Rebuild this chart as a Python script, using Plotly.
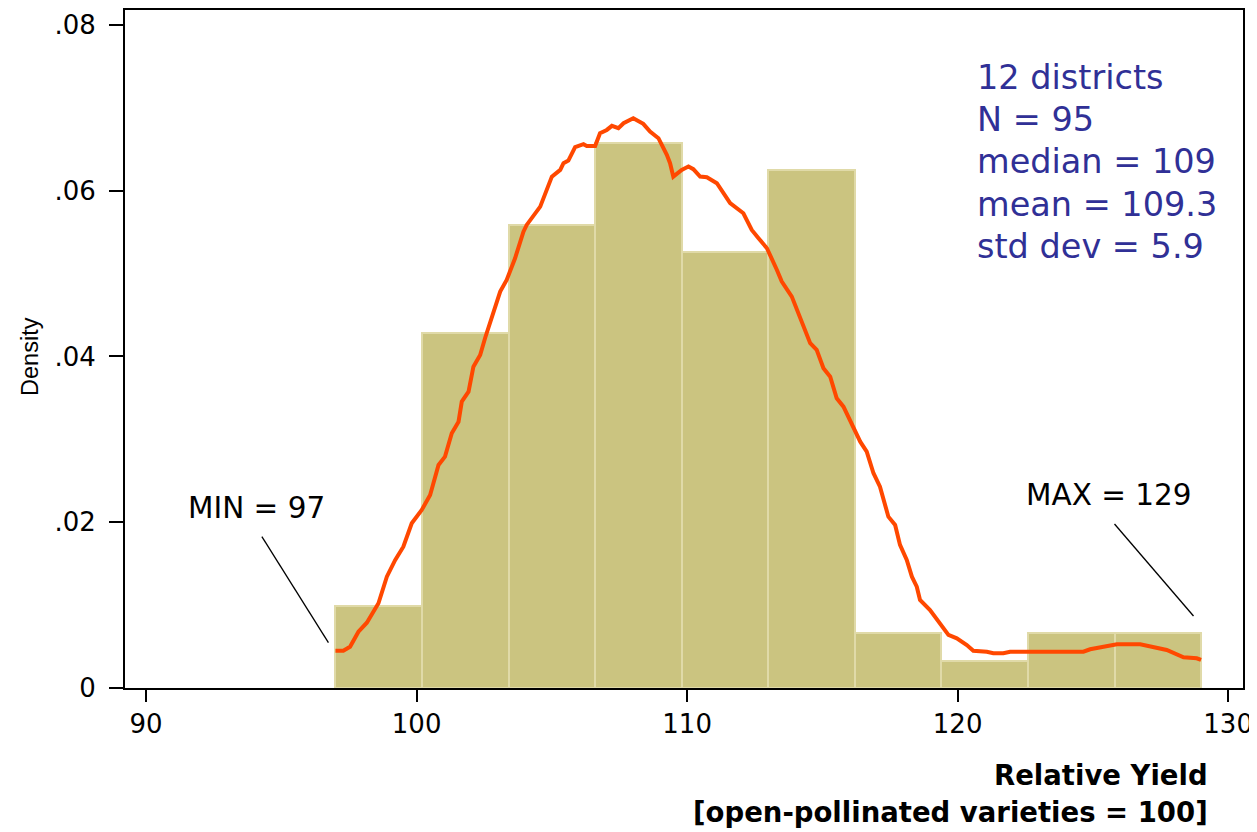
import plotly.graph_objects as go

# ---- data ----
bin_edges = [97.0, 100.2, 103.4, 106.6, 109.8, 113.0, 116.2, 119.4, 122.6, 125.8, 129.0]
bar_density = [0.0099, 0.0428, 0.0559, 0.0658, 0.0526, 0.0625, 0.0066, 0.0033, 0.0066, 0.0066]

kde_x = [97.0, 97.29, 97.54, 97.85, 98.16, 98.59, 98.90, 99.21, 99.51, 99.82,
         100.19, 100.50, 100.81, 101.05, 101.30, 101.55, 101.67, 101.92, 102.10, 102.35,
         102.53, 102.63, 103.09, 103.33, 103.64, 103.95, 104.07, 104.57, 104.75, 105.00,
         105.31, 105.43, 105.61, 105.86, 106.17, 106.29, 106.60, 106.78, 107.03, 107.22,
         107.46, 107.65, 108.01, 108.38, 108.63, 108.94, 109.25, 109.37, 109.49, 109.80,
         110.05, 110.23, 110.48, 110.73, 111.10, 111.34, 111.59, 112.08, 112.39, 112.64,
         112.95, 113.32, 113.50, 113.87, 114.24, 114.55, 114.79, 115.04, 115.29, 115.53,
         115.78, 116.15, 116.40, 116.64, 116.89, 117.13, 117.44, 117.69, 117.87, 118.12,
         118.31, 118.49, 118.61, 118.98, 119.35, 119.66, 119.97, 120.34, 120.58, 121.08,
         121.32, 121.69, 121.94, 122.68, 124.65, 124.90, 125.39, 125.89, 126.75, 127.12,
         127.73, 128.35, 128.84, 129.0]
kde_y = [0.00450, 0.00450, 0.00498, 0.00679, 0.00788, 0.01022, 0.01343, 0.01545, 0.01705, 0.01987,
         0.02148, 0.02329, 0.02691, 0.02791, 0.03073, 0.03213, 0.03455, 0.03575, 0.03877, 0.04018,
         0.04220, 0.04320, 0.04782, 0.04923, 0.05185, 0.05506, 0.05587, 0.05808, 0.05970, 0.06170,
         0.06251, 0.06332, 0.06363, 0.06525, 0.06561, 0.06540, 0.06540, 0.06694, 0.06733, 0.06782,
         0.06754, 0.06814, 0.06875, 0.06806, 0.06713, 0.06633, 0.06432, 0.06332, 0.06170, 0.06251,
         0.06291, 0.06259, 0.06170, 0.06163, 0.06090, 0.05970, 0.05849, 0.05728, 0.05527, 0.05427,
         0.05306, 0.05044, 0.04903, 0.04722, 0.04401, 0.04160, 0.04079, 0.03858, 0.03756, 0.03496,
         0.03394, 0.03153, 0.02972, 0.02851, 0.02591, 0.02429, 0.02067, 0.01967, 0.01726, 0.01545,
         0.01343, 0.01222, 0.01062, 0.00941, 0.00781, 0.00640, 0.00600, 0.00519, 0.00450, 0.00438,
         0.00419, 0.00419, 0.00438, 0.00438, 0.00438, 0.00467, 0.00498, 0.00527, 0.00527, 0.00498,
         0.00459, 0.00370, 0.00358, 0.00338]

x_ticks = [90, 100, 110, 120, 130]
x_tick_labels = ["90", "100", "110", "120", "130"]
y_ticks = [0, 0.02, 0.04, 0.06, 0.08]
y_tick_labels = ["0", ".02", ".04", ".06", ".08"]

stats_lines = ["12 districts", "N = 95", "median = 109", "mean = 109.3", "std dev = 5.9"]
stats_y = [0.07361, 0.06854, 0.06347, 0.05828, 0.05322]

min_label = "MIN = 97"
max_label = "MAX = 129"

# ---- figure ----
centers = [(a + b) / 2 for a, b in zip(bin_edges[:-1], bin_edges[1:])]
widths = [b - a for a, b in zip(bin_edges[:-1], bin_edges[1:])]

fig = go.Figure()
fig.add_trace(go.Bar(
    x=centers, y=bar_density, width=widths,
    marker=dict(color="rgb(203,196,128)", line=dict(color="rgb(224,218,168)", width=2)),
    hoverinfo="skip", showlegend=False,
))
fig.add_trace(go.Scatter(
    x=kde_x, y=kde_y, mode="lines",
    line=dict(color="rgb(255,72,0)", width=4),
    showlegend=False,
))

# leader lines for MIN / MAX
fig.add_shape(type="line", x0=94.28, y0=0.01826, x1=96.74, y1=0.00547,
              line=dict(color="black", width=1.3), xref="x", yref="y")
fig.add_shape(type="line", x0=125.80, y0=0.01979, x1=128.72, y1=0.00869,
              line=dict(color="black", width=1.3), xref="x", yref="y")

fig.add_annotation(x=94.07, y=0.0217, text=min_label, showarrow=False,
                   font=dict(family="DejaVu Sans", size=29.5, color="black"),
                   xanchor="center", yanchor="middle")
fig.add_annotation(x=125.59, y=0.02329, text=max_label, showarrow=False,
                   font=dict(family="DejaVu Sans", size=29.5, color="black"),
                   xanchor="center", yanchor="middle")

for txt, yy in zip(stats_lines, stats_y):
    fig.add_annotation(x=120.65, y=yy, text=txt, showarrow=False,
                       font=dict(family="DejaVu Sans", size=33.5, color="rgb(48,48,150)"),
                       xanchor="left", yanchor="middle")

# axis titles
fig.add_annotation(xref="paper", yref="paper", x=0.9705, y=-0.1283, text="<b>Relative Yield</b>",
                   showarrow=False, xanchor="right", yanchor="middle",
                   font=dict(family="DejaVu Sans", size=27.5, color="black"))
fig.add_annotation(xref="paper", yref="paper", x=0.9705, y=-0.1829,
                   text="<b>[open-pollinated varieties = 100]</b>",
                   showarrow=False, xanchor="right", yanchor="middle",
                   font=dict(family="DejaVu Sans", size=27.5, color="black"))
fig.add_annotation(xref="paper", yref="paper", x=-0.085, y=0.4897, text="Density",
                   showarrow=False, textangle=-90, xanchor="center", yanchor="middle",
                   font=dict(family="Liberation Sans", size=23.5, color="black"))

fig.update_layout(
    width=1257, height=832,
    margin=dict(l=117, r=22, t=2, b=152),
    paper_bgcolor="white", plot_bgcolor="white",
    bargap=0,
    xaxis=dict(range=[89.22, 130.55], tickvals=x_ticks, ticktext=x_tick_labels,
               showgrid=False, zeroline=False, showline=True, mirror=True,
               linecolor="black", linewidth=2, ticks="outside", ticklen=12,
               tickwidth=2, tickcolor="black", automargin=False,
               tickfont=dict(family="DejaVu Sans", size=26, color="black")),
    yaxis=dict(range=[0, 0.0818], tickvals=y_ticks, ticktext=y_tick_labels,
               showgrid=False, zeroline=False, showline=True, mirror=True,
               linecolor="black", linewidth=2, ticks="outside", ticklen=14,
               tickwidth=2, tickcolor="black", ticklabelstandoff=8, automargin=False,
               tickfont=dict(family="DejaVu Sans", size=26, color="black")),
)

fig.write_html("out.html")
